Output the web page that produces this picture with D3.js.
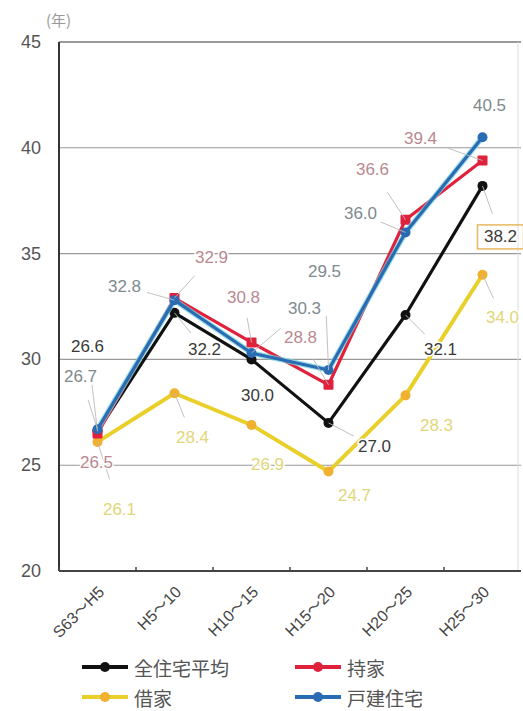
<!DOCTYPE html>
<html>
<head>
<meta charset="utf-8">
<script src="https://cdn.jsdelivr.net/npm/d3@7"></script>
<style>
  body { margin: 0; background: #fff; }
  svg { display: block; }
</style>
</head>
<body>
<svg id="chart" width="523" height="711"></svg>
<script>
// data
const periods = ['S63～H5', 'H5～10', 'H10～15', 'H15～20', 'H20～25', 'H25～30'];
const seriesNames = ['全住宅平均', '持家', '借家', '戸建住宅'];
const allHouses = [26.6, 32.2, 30.0, 27.0, 32.1, 38.2];
const owned = [26.5, 32.9, 30.8, 28.8, 36.6, 39.4];
const rented = [26.1, 28.4, 26.9, 24.7, 28.3, 34.0];
const detached = [26.7, 32.8, 30.3, 29.5, 36.0, 40.5];
const yTicks = [20, 25, 30, 35, 40, 45];

// label offsets from each point (layout only)
const labelOffsets = {
  '全住宅平均': [[-10, -85], [30, 37], [6, 36], [46, 24], [35, 35], [18, 51]],
  '持家': [[-1, 29], [37, -41], [-8, -45], [-28, -47], [-33, -50], [-62, -22]],
  '借家': [[22, 68], [18, 44], [16, 40], [26, 24], [31, 30], [20, 43]],
  '戸建住宅': [[-17, -53], [-50, -14], [53, -45], [-4, -98], [-45, -19], [7, -32]]
};

const svg = d3.select('#chart');
const plotLeft = 59, plotRight = 521, plotTop = 42, plotBottom = 571;

const x = d3.scalePoint().domain(periods).range([plotLeft, plotRight]).padding(0.5);
const y = d3.scaleLinear().domain([20, 45]).range([plotBottom, plotTop]);

const series = [
  {name: seriesNames[0], values: allHouses, color: '#111111', label: '#3a3a3a'},
  {name: seriesNames[2], values: rented, color: '#e9cf2a', label: '#e2d67a'},
  {name: seriesNames[1], values: owned, color: '#e0213c', label: '#b98890'},
  {name: seriesNames[3], values: detached, color: '#2a6cb4', label: '#7d8a8e'}
];

// grid
svg.append('g')
  .selectAll('line')
  .data(yTicks.filter(d => d > 20))
  .enter()
  .append('line')
  .attr('x1', plotLeft)
  .attr('x2', plotRight)
  .attr('y1', d => y(d))
  .attr('y2', d => y(d))
  .attr('stroke', d => d === 45 ? '#777' : '#999')
  .attr('stroke-width', d => d === 45 ? 1.6 : 1.1);

// faint right border
svg.append('line')
  .attr('x1', plotRight - 3).attr('x2', plotRight - 3)
  .attr('y1', plotTop).attr('y2', plotBottom)
  .attr('stroke', '#ddd');

// y axis labels
svg.append('g')
  .selectAll('text')
  .data(yTicks)
  .enter()
  .append('text')
  .attr('x', 41)
  .attr('y', d => y(d))
  .attr('text-anchor', 'end')
  .attr('dominant-baseline', 'central')
  .attr('font-family', 'Liberation Sans, Arial, sans-serif')
  .attr('font-size', 18)
  .attr('fill', '#555')
  .text(d => d);

svg.append('text')
  .attr('x', 46).attr('y', 26)
  .attr('font-family', 'Noto Sans CJK JP, sans-serif')
  .attr('font-size', 15)
  .attr('fill', '#999')
  .text('(年)');

// axes lines
svg.append('line')
  .attr('x1', plotLeft).attr('x2', plotLeft)
  .attr('y1', plotTop).attr('y2', plotBottom)
  .attr('stroke', '#333').attr('stroke-width', 2);
svg.append('line')
  .attr('x1', plotLeft).attr('x2', plotRight)
  .attr('y1', plotBottom).attr('y2', plotBottom)
  .attr('stroke', '#444').attr('stroke-width', 1.8);

// small ticks on the x axis, between categories
const step = x.step();
svg.append('g')
  .selectAll('line')
  .data(periods)
  .enter()
  .append('line')
  .attr('x1', d => x(d) - step / 2)
  .attr('x2', d => x(d) - step / 2)
  .attr('y1', plotBottom)
  .attr('y2', plotBottom - 4)
  .attr('stroke', '#444')
  .attr('stroke-width', 1.5);

// x labels, rotated
svg.append('g')
  .selectAll('text')
  .data(periods)
  .enter()
  .append('text')
  .attr('transform', d => `translate(${x(d) + 4},${plotBottom + 18}) rotate(-45)`)
  .attr('text-anchor', 'end')
  .attr('dominant-baseline', 'central')
  .attr('font-family', 'Liberation Sans, Noto Sans CJK JP, sans-serif')
  .attr('font-size', 16)
  .attr('fill', '#444')
  .text(d => d);

// lines
const line = d3.line()
  .x((d, i) => x(periods[i]))
  .y(d => y(d));

series.forEach(s => {
  const g = svg.append('g');
  if (s.name === '戸建住宅') {
    g.append('path')
      .attr('d', line(s.values))
      .attr('fill', 'none')
      .attr('stroke', '#6fd0d8')
      .attr('stroke-width', 5.5)
      .attr('opacity', 0.7);
  }
  g.append('path')
    .attr('d', line(s.values))
    .attr('fill', 'none')
    .attr('stroke', s.color)
    .attr('stroke-width', s.name === '借家' ? 4 : 3.2)
    .attr('stroke-linejoin', 'round');
  g.selectAll('rect')
    .data(s.values)
    .enter()
    .append('rect')
    .attr('x', (d, i) => x(periods[i]) - 5)
    .attr('y', d => y(d) - 5)
    .attr('width', 10)
    .attr('height', 10)
    .attr('rx', s.name === '持家' ? 1 : 5)
    .attr('fill', s.name === '借家' ? '#f0b030' : s.color);
});

// value labels with small leader lines
series.forEach(s => {
  const offs = labelOffsets[s.name];
  const g = svg.append('g');
  g.selectAll('line')
    .data(s.values)
    .enter()
    .append('line')
    .attr('x1', (d, i) => x(periods[i]))
    .attr('y1', d => y(d))
    .attr('x2', (d, i) => x(periods[i]) + offs[i][0] * 0.55)
    .attr('y2', (d, i) => y(d) + offs[i][1] * 0.55)
    .attr('stroke', '#bbb')
    .attr('stroke-width', 1)
    .attr('opacity', (d, i) => Math.hypot(offs[i][0], offs[i][1]) > 45 ? 0.9 : 0);
  g.selectAll('text')
    .data(s.values)
    .enter()
    .append('text')
    .attr('x', (d, i) => x(periods[i]) + offs[i][0])
    .attr('y', (d, i) => y(d) + offs[i][1])
    .attr('text-anchor', 'middle')
    .attr('dominant-baseline', 'central')
    .attr('font-family', 'Liberation Sans, Arial, sans-serif')
    .attr('font-size', 17)
    .attr('fill', s.label)
    .attr('stroke', '#fff')
    .attr('stroke-width', 3)
    .attr('paint-order', 'stroke')
    .text(d => d.toFixed(1));
});

// box round the last 全住宅平均 label
{
  const i = 5;
  const off = labelOffsets['全住宅平均'][i];
  svg.append('rect')
    .attr('x', x(periods[i]) + off[0] - 23)
    .attr('y', y(allHouses[i]) + off[1] - 12)
    .attr('width', 46)
    .attr('height', 24)
    .attr('fill', 'none')
    .attr('stroke', '#e8b860')
    .attr('stroke-width', 1.5);
}

// legend
const legend = svg.append('g');
const legendItems = [
  {name: '全住宅平均', color: '#111111', lx: 82, ly: 667},
  {name: '持家', color: '#e0213c', lx: 295, ly: 667},
  {name: '借家', color: '#e9cf2a', lx: 82, ly: 697},
  {name: '戸建住宅', color: '#2a6cb4', lx: 295, ly: 697}
];
legendItems.forEach(it => {
  legend.append('line')
    .attr('x1', it.lx).attr('x2', it.lx + 46)
    .attr('y1', it.ly).attr('y2', it.ly)
    .attr('stroke', it.color).attr('stroke-width', 4);
  legend.append('circle')
    .attr('cx', it.lx + 23).attr('cy', it.ly)
    .attr('r', 5)
    .attr('fill', it.name === '借家' ? '#f0b030' : it.color);
  legend.append('text')
    .attr('x', it.lx + 52).attr('y', it.ly)
    .attr('dominant-baseline', 'central')
    .attr('font-family', 'Noto Sans CJK JP, sans-serif')
    .attr('font-size', 19)
    .attr('fill', '#555')
    .text(it.name);
});
</script>
</body>
</html>
